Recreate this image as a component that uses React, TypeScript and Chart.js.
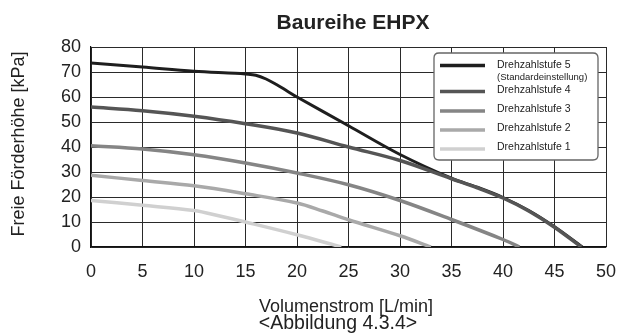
import React, { useEffect, useRef } from "react";
import { Chart, registerables } from "chart.js";

Chart.register(...registerables);

const FONT = "'Liberation Sans', Arial, Helvetica, sans-serif";

const chartTitle = "Baureihe EHPX";
const xAxisTitle = "Volumenstrom [L/min]";
const yAxisTitle = "Freie Förderhöhe [kPa]";
const caption = "<Abbildung 4.3.4>";

const seriesLabels = [
  "Drehzahlstufe 5",
  "Drehzahlstufe 4",
  "Drehzahlstufe 3",
  "Drehzahlstufe 2",
  "Drehzahlstufe 1",
];
const seriesNote = "(Standardeinstellung)";
const seriesColors = ["#1e1e1e", "#555555", "#858585", "#a9a9a9", "#d0d0d0"];

const stufe5X = [0, 5, 10, 14, 15, 16, 17, 18, 19, 20, 25, 30, 35, 37.5, 40, 42.5, 45, 47.7];
const stufe5Y = [73.6, 72, 70.3, 69.5, 69.2, 68.7, 67.2, 65, 62.5, 60, 48.5, 37, 27.5, 23.9, 19.8, 14.6, 8.1, 0];

const stufe4X = [0, 5, 10, 15, 20, 25, 30, 35, 37.5, 40, 42.5, 45, 47.6];
const stufe4Y = [56, 54.5, 52.3, 49.3, 45.6, 40, 34.6, 27.3, 23.7, 19.6, 14.4, 7.9, 0];

const stufe3X = [0, 5, 10, 15, 20, 25, 30, 35, 40, 41.6];
const stufe3Y = [40.5, 39.2, 36.9, 33.6, 29.6, 24.9, 18.6, 11, 3, 0];

const stufe2X = [0, 5, 10, 15, 20, 22.5, 25, 30, 33];
const stufe2Y = [28.7, 26.6, 24.5, 21.3, 17.6, 14.4, 10.9, 4.5, 0];

const stufe1X = [0, 5, 10, 12.5, 15, 20, 24.3];
const stufe1Y = [18.6, 16.7, 14.6, 12.4, 10, 4.9, 0];

const xTicks = [0, 5, 10, 15, 20, 25, 30, 35, 40, 45, 50];
const yTicks = [0, 10, 20, 30, 40, 50, 60, 70, 80];

const seriesX = [stufe5X, stufe4X, stufe3X, stufe2X, stufe1X];
const seriesY = [stufe5Y, stufe4Y, stufe3Y, stufe2Y, stufe1Y];

const textPlugin = {
  id: "textPlugin",
  afterDraw(chart: any) {
    const ctx = chart.ctx as CanvasRenderingContext2D;
    ctx.save();
    ctx.fillStyle = "#222";
    ctx.font = `bold 21px ${FONT}`;
    ctx.textAlign = "center";
    ctx.textBaseline = "alphabetic";
    ctx.fillText(chartTitle, 353, 29);
    ctx.font = `18px ${FONT}`;
    ctx.fillText(xAxisTitle, 346, 312);
    ctx.font = `19.5px ${FONT}`;
    ctx.fillText(caption, 338, 329);
    ctx.save();
    ctx.translate(24, 144);
    ctx.rotate(-Math.PI / 2);
    ctx.font = `18px ${FONT}`;
    ctx.textAlign = "center";
    ctx.textBaseline = "alphabetic";
    ctx.fillText(yAxisTitle, 0, 0);
    ctx.restore();

    const lx = 434, ly = 53, lw = 164, lh = 107, r = 5;
    ctx.beginPath();
    ctx.moveTo(lx + r, ly);
    ctx.lineTo(lx + lw - r, ly);
    ctx.quadraticCurveTo(lx + lw, ly, lx + lw, ly + r);
    ctx.lineTo(lx + lw, ly + lh - r);
    ctx.quadraticCurveTo(lx + lw, ly + lh, lx + lw - r, ly + lh);
    ctx.lineTo(lx + r, ly + lh);
    ctx.quadraticCurveTo(lx, ly + lh, lx, ly + lh - r);
    ctx.lineTo(lx, ly + r);
    ctx.quadraticCurveTo(lx, ly, lx + r, ly);
    ctx.closePath();
    ctx.fillStyle = "#ffffff";
    ctx.fill();
    ctx.strokeStyle = "#666";
    ctx.lineWidth = 1.3;
    ctx.stroke();

    const rows = [65, 91, 110.5, 129.5, 148.5];
    ctx.textAlign = "left";
    ctx.textBaseline = "middle";
    rows.forEach((y, i) => {
      ctx.beginPath();
      ctx.moveTo(440, y + 0.5);
      ctx.lineTo(485, y + 0.5);
      ctx.strokeStyle = seriesColors[i];
      ctx.lineWidth = 3.5;
      ctx.stroke();
      ctx.fillStyle = "#222";
      ctx.font = `10.5px ${FONT}`;
      ctx.fillText(seriesLabels[i], 497, i === 0 ? y : y - 1);
    });
    ctx.font = `9.5px ${FONT}`;
    ctx.fillText(seriesNote, 497, 77.5);
    ctx.restore();
  },
};

export default function App() {
  const ref = useRef<HTMLCanvasElement>(null);
  useEffect(() => {
    document.body.style.margin = "0";
    const canvas = ref.current;
    if (!canvas) return;
    const datasets = seriesLabels.map((label, i) => ({
      label,
      data: seriesX[i].map((x, j) => ({ x, y: seriesY[i][j] })),
      borderColor: seriesColors[i],
      backgroundColor: seriesColors[i],
      borderWidth: i === 0 ? 3 : 3.5,
      pointRadius: 0,
      tension: 0.35,
      fill: false,
    }));
    const ordered = datasets.slice().reverse();
    const chart = new Chart(canvas, {
      type: "line",
      data: { datasets: ordered },
      options: {
        animation: false,
        responsive: false,
        layout: { padding: { top: 47, right: 13, left: 0, bottom: 0 } },
        plugins: {
          legend: { display: false },
          title: { display: false },
          tooltip: { enabled: false },
        },
        scales: {
          x: {
            type: "linear",
            min: 0,
            max: 50,
            afterBuildTicks: (s: any) => {
              s.ticks = xTicks.map((v) => ({ value: v }));
            },
            afterFit: (s: any) => {
              s.height = 89;
              s.paddingRight = 0;
              s.paddingLeft = 0;
            },
            ticks: {
              font: { family: FONT, size: 18 },
              color: "#222",
              padding: 14,
              maxRotation: 0,
              autoSkip: false,
            },
            grid: { color: "#2a2a2a", lineWidth: 1, drawTicks: false },
            border: { color: "#111", width: 1.2 },
          },
          y: {
            type: "linear",
            min: 0,
            max: 80,
            afterBuildTicks: (s: any) => {
              s.ticks = yTicks.map((v) => ({ value: v }));
            },
            afterFit: (s: any) => {
              s.width = 91;
            },
            ticks: {
              font: { family: FONT, size: 18 },
              color: "#222",
              padding: 10,
              autoSkip: false,
            },
            grid: { color: "#2a2a2a", lineWidth: 1, drawTicks: false },
            border: { color: "#111", width: 1.2 },
          },
        },
      },
      plugins: [textPlugin],
    });
    return () => chart.destroy();
  }, []);
  return <canvas ref={ref} width={619} height={336} style={{ display: "block" }} />;
}
